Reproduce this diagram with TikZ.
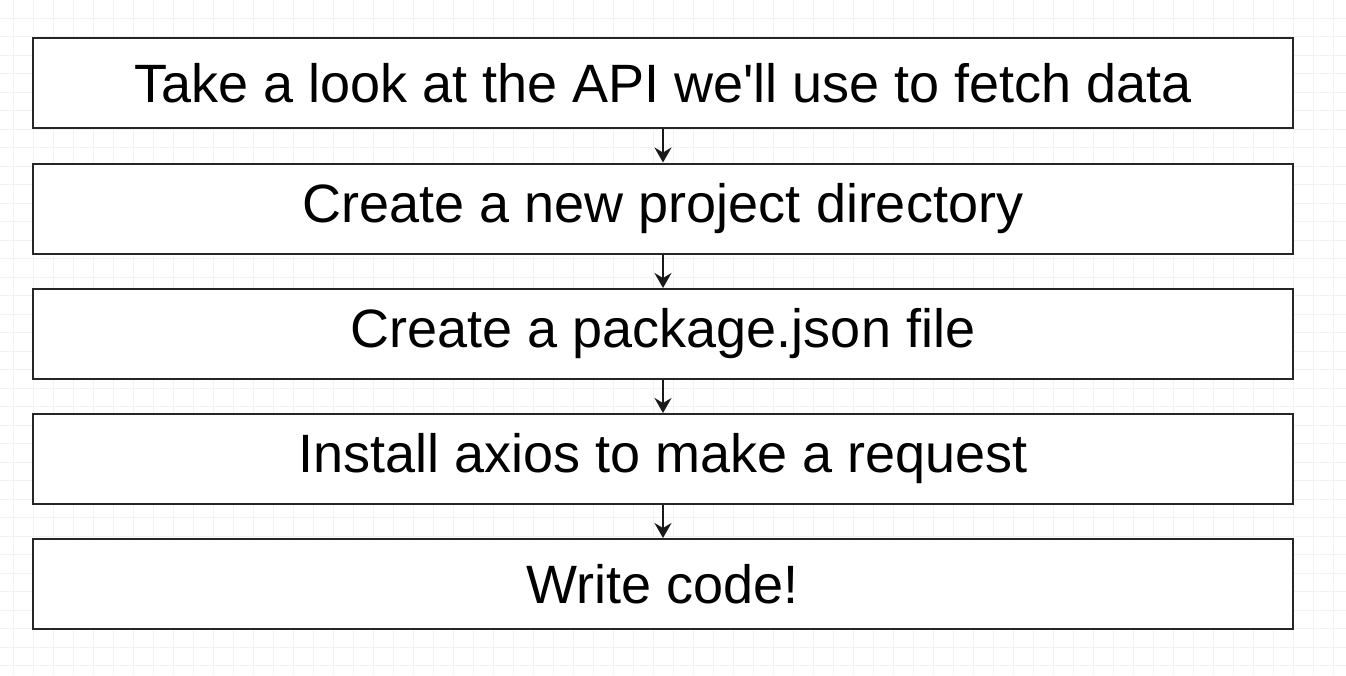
\documentclass[tikz,border=0pt]{standalone}
\usepackage{fontspec}
\setmainfont{Liberation Sans}
\usetikzlibrary{arrows.meta}
\begin{document}
\begin{tikzpicture}[x=1pt,y=-1pt,
  stepbox/.style={draw=black!85, line width=2pt, fill=white, minimum width=1260pt, minimum height=90pt, inner sep=0pt, font=\fontsize{54}{60}\selectfont},
  conn/.style={draw=black!90, line width=2pt, -{Stealth[length=15pt,width=17pt,inset=5pt]}},
  gridline/.style={draw=black!5, line width=1pt}]
\useasboundingbox (0,0) rectangle (1346,675);
\fill[white] (0,0) rectangle (1346,675);
\foreach \x in {13,33,...,1345} \draw[gridline] (\x,0) -- (\x,675);
\foreach \y in {18,36.5,...,675} \draw[gridline] (0,\y) -- (1346,\y);
\node[stepbox] (b1) at (663,83) {Take a look at the API we\textquotesingle ll use to fetch data};
\node[stepbox] (b2) at (663,208.5) {Create a new project directory};
\node[stepbox] (b3) at (663,334) {Create a package.json file};
\node[stepbox] (b4) at (663,459) {Install axios to make a request};
\node[stepbox] (b5) at (663,584) {Write code!};
\draw[conn] (b1) -- (b2);
\draw[conn] (b2) -- (b3);
\draw[conn] (b3) -- (b4);
\draw[conn] (b4) -- (b5);
\end{tikzpicture}
\end{document}
